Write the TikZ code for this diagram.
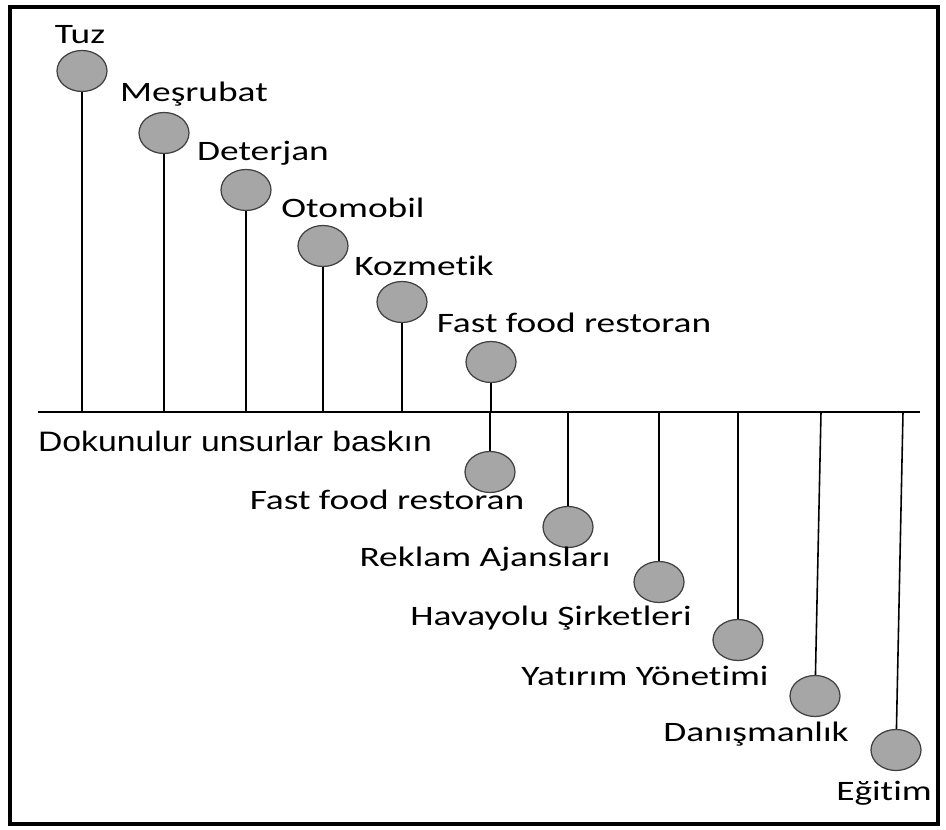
\documentclass[tikz,border=0pt]{standalone}
\usepackage{fontspec}
\setmainfont{Carlito}[FakeStretch=1.33,Ligatures=NoCommon]
\newfontfamily\arialfont{Liberation Sans}[FakeStretch=1.2]
\usetikzlibrary{shapes.geometric}

\begin{document}
\begin{tikzpicture}[x=0.02cm,y=-0.02cm,
		dot/.style={ellipse,draw=black!75,fill=black!35,line width=.7pt,
			minimum width=1cm,minimum height=.82cm,inner sep=0pt},
		lbl/.style={anchor=base,inner sep=0pt,font=\fontsize{16}{19}\selectfont},
		stem/.style={line width=.9pt}]
		\useasboundingbox (0,0) rectangle (946,830);
		\draw[line width=2.2pt] (10,7) rectangle (938,824);
		%%%%%%%%%%%%%%%%% axis %%%%%%%%%%%%%%%%%%%%%%%%
		\coordinate (L) at (38,412);
		\coordinate (R) at (920,412);
		\draw[line width=1.6pt] (L) -- (R);
		\node[lbl,font=\arialfont\fontsize{16}{19}\selectfont] (dok) at (235,452)
		{Dokunulur unsurlar baskın};
		%%%%%%%%%%%%%%%%% upper vertices %%%%%%%%%%%%%%%%%%%
		%  x/y of dot, x/y of label, label
		\foreach \x/\y/\lx/\ly/\label [count=\n] in
		{82/71/80/44/Tuz, 164/133/194/102/Meşrubat, 246/190/263/161/Deterjan,
			323/246/353/218/Otomobil, 402/302/424/276/Kozmetik,
			491/362/574/333/Fast food restoran}
		{\node[dot] (u\n) at (\x,\y) {};
			\node[lbl] (ul\n) at (\lx,\ly) {\label};
			\coordinate (ua\n) at (\x,412);
			\draw[stem] (u\n) -- (ua\n);}
		%%%%%%%%%%%%%%%%% lower vertices %%%%%%%%%%%%%%%%%%%
		%  x on axis, x/y of dot, x/y of label, label
		\foreach \ax/\x/\y/\lx/\ly/\label [count=\n] in
		{490/490/472/387/510/Fast food restoran, 568/568/527/485/566/Reklam Ajansları,
			659/659/582/551/625/Havayolu Şirketleri, 738/738/640/645/685/Yatırım Yönetimi,
			821/815/696/756/741/Danışmanlık, 903/896/750/884/800/Eğitim}
		{\coordinate (la\n) at (\ax,412);
			\node[dot] (l\n) at (\x,\y) {};
			\node[lbl] (ll\n) at (\lx,\ly) {\label};
			\draw[stem] (la\n) -- (l\n);}
	\end{tikzpicture}
\end{document}
